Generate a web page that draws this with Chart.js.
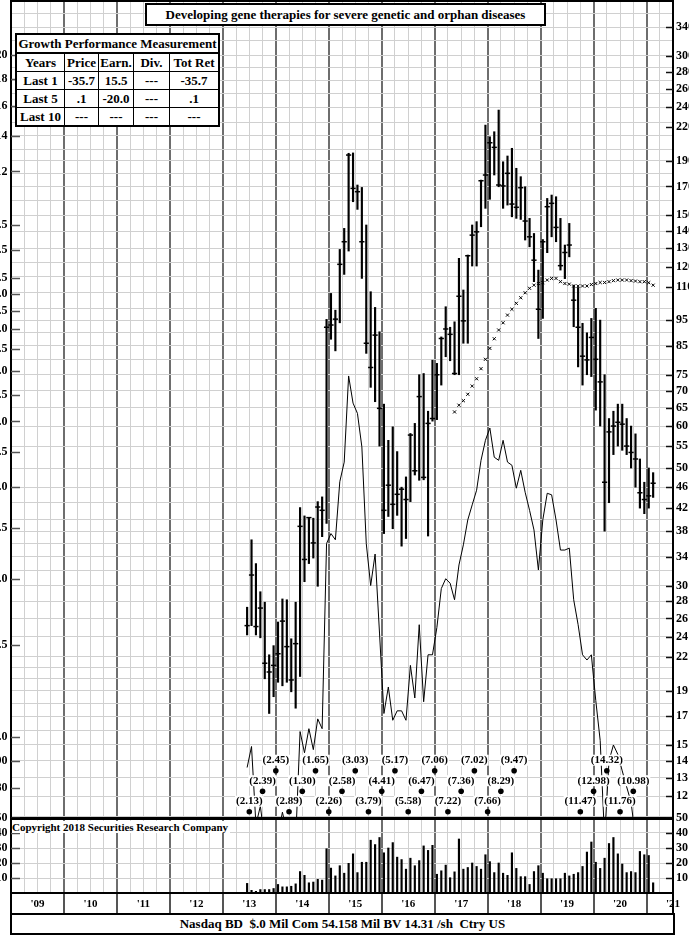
<!DOCTYPE html>
<html>
<head>
<meta charset="utf-8">
<script src="https://cdn.jsdelivr.net/npm/chart.js@4.4.0/dist/chart.umd.min.js"></script>
<style>
  body { margin: 0; background: #fff; width: 689px; height: 936px; overflow: hidden; position: relative;
         font-family: "Liberation Serif", "DejaVu Serif", serif; font-weight: bold; color: #000; }
  #priceWrap { position: absolute; left: 0; top: 0; width: 689px; height: 818px; }
  #volWrap { position: absolute; left: 0; top: 808px; width: 689px; height: 106px; }
  .title { position: absolute; left: 145px; top: 3px; width: 397px; height: 19px; border: 2px solid #000;
           background: #fff; font-size: 13px; line-height: 19px; text-align: center; white-space: nowrap; }
  table.gpm { position: absolute; left: 15px; top: 33px; border-collapse: collapse; background: #fff;
              font-size: 13px; border: 2px solid #000; }
  table.gpm td { border: 1px solid #000; text-align: center; padding: 0; height: 17px; line-height: 15px; white-space: nowrap; }
  table.gpm tr.head td { border-bottom: 2px solid #000; }
  .copy { position: absolute; left: 12px; top: 821px; font-size: 11px; line-height: 12px; background: #fff; padding-right: 2px; white-space: nowrap; }
  .foot { position: absolute; left: 10px; top: 913px; width: 661px; height: 18px; border: 2px solid #000; background: #fff;
          font-size: 13px; line-height: 18px; text-align: center; white-space: pre; }
</style>
</head>
<body>
<div id="priceWrap"><canvas id="price" width="689" height="818"></canvas></div>
<div id="volWrap"><canvas id="vol" width="689" height="106"></canvas></div>

<div class="title">Developing gene therapies for severe genetic and orphan diseases</div>
<table class="gpm">
  <tr class="head"><td colspan="5" style="border-right:1px solid #000">Growth Performance Measurement</td></tr>
  <tr><td style="width:47px">Years</td><td style="width:33px">Price</td><td style="width:34px">Earn.</td><td style="width:35px">Div.</td><td style="width:48px">Tot Ret</td></tr>
  <tr><td>Last 1</td><td>-35.7</td><td>15.5</td><td>---</td><td>-35.7</td></tr>
  <tr><td>Last 5</td><td>.1</td><td>-20.0</td><td>---</td><td>.1</td></tr>
  <tr><td>Last 10</td><td>---</td><td>---</td><td>---</td><td>---</td></tr>
</table>
<div class="copy">Copyright 2018 Securities Research Company</div>
<div class="foot">Nasdaq BD  $.0 Mil Com 54.158 Mil BV 14.31 /sh  Ctry US</div>

<script>
// monthly bars, first one is June 2013
const startYear = 2013, startMonth = 5;

const high = [
  27.3, 36.6, 33.0, 29.2, 27.9, 22.2, 23.1,
  25.6, 28.3, 28.2, 23.8, 27.9, 42.1, 40.6, 40.3, 40.2, 43.2, 44.1, 95.4,
  106.8, 99.3, 129.3, 141.7, 196.4, 196.7, 171.1, 169.3, 143.8, 107.6, 100.5, 90.4,
  66.0, 56.4, 59.8, 53.7, 46.0, 48.1, 58.1, 60.7, 75.0, 75.4, 64.0, 79.9,
  78.8, 88.4, 100.8, 92.2, 94.4, 124.4, 108.4, 126.2, 143.8, 145.9, 174.8, 222.0,
  211.0, 215.7, 237.0, 189.3, 194.1, 200.7, 184.0, 177.4, 169.8, 148.0, 138.6, 118.2,
  135.0, 161.4, 163.8, 162.6, 148.0, 131.8, 144.8, 110.7, 109.6, 93.8, 90.0, 95.8,
  100.1, 95.1, 75.0, 62.0, 64.0, 66.0, 66.0, 62.0, 60.0, 58.0, 52.0, 47.0,
  50.0, 49.0
];
const low = [
  24.2, 25.2, 24.2, 23.9, 20.0, 17.2, 18.5,
  19.7, 19.4, 19.7, 18.9, 17.6, 20.2, 30.5, 33.0, 33.8, 29.9, 37.1, 39.3,
  87.5, 83.2, 94.0, 116.0, 128.4, 159.1, 153.9, 114.0, 82.3, 71.0, 66.7, 55.0,
  37.6, 40.5, 38.4, 40.7, 35.6, 36.8, 43.2, 48.5, 47.4, 47.5, 37.2, 61.3,
  61.7, 71.7, 81.1, 79.7, 75.0, 75.0, 86.0, 86.0, 120.3, 120.3, 142.7, 154.6,
  160.8, 178.7, 169.8, 154.6, 156.8, 149.0, 148.0, 147.3, 134.7, 130.8, 112.4, 87.8,
  95.8, 127.5, 136.6, 133.7, 118.2, 113.9, 125.2, 92.4, 77.6, 71.7, 75.0, 74.4,
  64.3, 60.0, 38.0, 43.0, 53.0, 55.0, 54.0, 53.0, 50.0, 46.0, 42.0, 41.0,
  42.0, 44.0
];
const close = [
  25.2, 31.4, 25.1, 27.2, 21.4, 20.6, 21.2,
  22.3, 25.7, 23.0, 19.9, 23.3, 38.8, 33.6, 40.3, 36.1, 42.2, 41.6, 92.2,
  93.1, 95.5, 121.2, 133.7, 194.9, 168.6, 166.2, 133.7, 86.0, 77.4, 89.1, 64.8,
  41.6, 46.4, 42.7, 44.6, 45.6, 43.6, 57.7, 49.4, 68.2, 48.0, 60.7, 62.0,
  75.0, 87.8, 91.5, 89.4, 75.4, 105.5, 94.8, 125.8, 137.6, 139.6, 174.3, 178.7,
  205.6, 201.5, 171.1, 170.4, 180.0, 157.5, 155.3, 169.1, 146.3, 136.6, 123.4, 99.7,
  133.7, 155.7, 158.0, 142.3, 120.5, 127.6, 131.8, 103.7, 92.2, 81.3, 80.0, 88.2,
  80.2, 72.7, 47.0, 58.5, 60.0, 61.0, 60.5, 55.0, 53.5, 52.0, 44.9, 43.6,
  44.3, 46.8
];
const volume = [
  6.4, 1.8, 1.1, 2.3, 2.3, 2.3, 3.0,
  5.7, 4.1, 4.1, 4.5, 6.1, 14.3, 11.8, 6.8, 7.3, 9.1, 8.6, 29.5,
  16.6, 11.4, 18.2, 13.2, 19.8, 26.1, 13.6, 20.5, 20.5, 35.2, 32.3, 37.0,
  26.8, 30.0, 33.6, 23.9, 22.3, 15.9, 23.2, 18.2, 21.6, 31.4, 28.4, 31.8,
  12.5, 14.8, 18.6, 10.2, 14.1, 36.0, 15.9, 17.0, 20.0, 17.7, 15.9, 25.5,
  20.9, 13.6, 20.0, 13.2, 11.8, 26.8, 16.4, 10.9, 10.9, 5.7, 14.3, 18.2,
  13.2, 9.5, 9.5, 9.5, 9.5, 13.2, 11.4, 12.5, 13.6, 17.7, 27.3, 34.0,
  20.5, 16.4, 23.2, 33.0, 37.0, 26.1, 19.3, 13.6, 14.3, 13.6, 27.7, 25.5,
  25.0, 6.8
];
// relative strength line, June 2013 .. Dec 2020
const relStrength = [
  13.6, 14.9, 10.6, 11.5, 9.9, 9.6, 9.75,
  10.1, 11.2, 10.3, 9.75, 9.9, 15.9, 14.5, 16.1, 14.7, 16.8, 16.1, 36.0,
  37.6, 36.6, 47.1, 51.3, 74.6, 66.3, 63.4, 54.8, 36.0, 30.0, 34.4, 24.4,
  17.2, 19.3, 16.7, 17.4, 17.4, 16.7, 21.2, 18.4, 25.3, 18.1, 22.2, 22.2,
  25.0, 29.6, 30.9, 30.3, 28.2, 32.8, 35.8, 39.9, 42.6, 45.4, 51.7, 56.4,
  59.5, 52.4, 51.7, 56.4, 51.3, 50.6, 45.8, 49.5, 45.0, 41.6, 38.2, 32.1,
  39.9, 44.8, 44.5, 39.9, 35.0, 35.0, 35.3, 28.2, 25.3, 22.2, 21.7, 22.2,
  18.2, 15.3, 10.0, 14.0, 15.0, 14.4, 13.4, 12.5, 11.7, 10.0, 9.0, 8.5
];
// "x" line, May 2017 .. Feb 2021
const valueLineStart = 47;
const valueLine = [
  63.8, 65.7, 67.0, 68.9, 71.4, 73.7, 77.0, 80.2,
  84.1, 87.7, 91.1, 94.0, 97.2, 99.7, 102.3, 104.8, 107.1, 109.2, 110.7, 111.5,
  111.9, 113.2, 114.0, 114.0, 112.4, 111.5, 111.2, 110.3, 110.3, 110.3, 110.3, 111.0,
  111.5, 112.0, 112.0, 112.4, 112.9, 113.2, 113.2, 113.2, 112.9, 112.7, 112.4, 112.4,
  111.9, 110.7
];
// quarterly earnings per share labels
const epsDates = [2013.5, 2013.75, 2014.0, 2014.25, 2014.5, 2014.75, 2015.0, 2015.25, 2015.5, 2015.75,
  2016.0, 2016.25, 2016.5, 2016.75, 2017.0, 2017.25, 2017.5, 2017.75, 2018.0, 2018.25, 2018.5,
  2019.75, 2020.0, 2020.25, 2020.5, 2020.75];
const epsLabels = ['(2.13)', '(2.39)', '(2.45)', '(2.89)', '(1.30)', '(1.65)', '(2.26)', '(2.58)', '(3.03)', '(3.79)',
  '(4.41)', '(5.17)', '(5.58)', '(6.47)', '(7.06)', '(7.22)', '(7.36)', '(7.02)', '(7.66)', '(8.29)', '(9.47)',
  '(11.47)', '(12.98)', '(14.32)', '(11.76)', '(10.98)'];

const rightTicks = [340, 300, 280, 260, 240, 220, 190, 170, 150, 140, 130, 120, 110, 95, 85, 75, 70, 65, 60, 55,
  50, 46, 42, 38, 34, 30, 28, 26, 24, 22, 19, 17, 15, 14, 13, 12];
const leftTicks = [20, 18, 16, 14, 12, 9.5, 8.5, 7.5, 7, 6.5, 6, 5.5, 5, 4.5, 4, 3.5, 3, 2.5, 2, 1.5, 1, 0.9, 0.8];
const priceGrid = [11, 12, 13, 14, 15, 16, 17, 18, 19, 20, 21, 22, 24, 26, 28, 30, 32, 34, 36, 38, 40, 43, 46,
  50, 55, 60, 65, 70, 75, 80, 85, 90, 95, 100, 107, 115, 122, 130, 140, 150, 160, 170, 180, 190, 200,
  212, 225, 240, 255, 270, 285, 300, 320, 340, 360, 380];
const volTicks = [50, 40, 30, 20, 10];

const priceMax = 382.4, priceMin = 10.92, leftRatio = 15;

const monthX = i => startYear + (startMonth + i + 0.5) / 12;
const quarterTicks = [];
for (let q = 2009; q <= 2021.5 + 1e-9; q += 0.25) quarterTicks.push(q);
const isYear = v => Math.abs(v - Math.round(v)) < 1e-6;
const isMid = v => Math.abs(v - Math.floor(v) - 0.5) < 1e-6;

Chart.defaults.font.family = '"Liberation Serif", "DejaVu Serif", serif';
Chart.defaults.font.weight = 'bold';
Chart.defaults.color = '#000';

const labelFont = { size: 12, weight: 'bold' };

function gridX(showLabels) {
  return {
    type: 'linear', min: 2009, max: 2021.5, offset: false,
    afterBuildTicks: ax => { ax.ticks = quarterTicks.map(v => ({ value: v })); },
    afterFit: ax => { ax.paddingLeft = 0; ax.paddingRight = 0; ax.height = showLabels ? 21 : 0; },
    grid: {
      offset: false,
      color: c => (c.tick && isYear(c.tick.value)) ? '#6e6e6e' : '#d0d0d0',
      lineWidth: c => (c.tick && isYear(c.tick.value)) ? 2 : 1,
      drawTicks: showLabels,
      tickLength: 21,
      tickColor: c => (c.tick && isYear(c.tick.value)) ? '#555' : 'rgba(0,0,0,0)',
      tickWidth: 2
    },
    border: { display: true, color: '#000', width: 2 },
    ticks: {
      display: showLabels, autoSkip: false, maxRotation: 0, padding: -16,
      font: { size: 11, weight: 'bold' },
      callback: v => isMid(v) ? "'" + String(Math.floor(v)).slice(2) : ''
    }
  };
}

function fixedWidth(w) {
  return s => { s.width = w; s.paddingTop = 0; s.paddingBottom = 0; };
}

const leftFmt = v => v >= 10 ? String(v) : v >= 1 ? v.toFixed(1) : '.' + Math.round(v * 100);

// short tick dashes drawn inside the plot frame
const frameTicks = {
  id: 'frameTicks',
  afterDraw(chart, args, opts) {
    const { ctx, chartArea: a } = chart;
    ctx.save();
    ctx.lineWidth = 1.5;
    (opts.marks || []).forEach(m => {
      const sc = chart.scales[m.id];
      ctx.strokeStyle = m.color;
      sc.ticks.forEach(t => {
        const y = Math.round(sc.getPixelForValue(t.value)) + 0.5;
        ctx.beginPath();
        if (m.side === 'left') { ctx.moveTo(a.left, y); ctx.lineTo(a.left + m.len, y); }
        else { ctx.moveTo(a.right - m.len, y); ctx.lineTo(a.right, y); }
        ctx.stroke();
      });
    });
    ctx.strokeStyle = '#000';
    ctx.lineWidth = 2;
    ctx.beginPath();
    ctx.moveTo(a.left - 1, a.top + 1); ctx.lineTo(a.right + 1, a.top + 1);
    if (opts.band) {
      ctx.moveTo(a.left, a.bottom); ctx.lineTo(a.left, chart.height);
      ctx.moveTo(a.right, a.bottom); ctx.lineTo(a.right, chart.height);
    }
    ctx.stroke();
    ctx.restore();
  }
};

// earnings labels above their dots
const epsText = {
  id: 'epsText',
  afterDatasetsDraw(chart) {
    const idx = chart.data.datasets.findIndex(d => d.label === 'eps');
    const meta = chart.getDatasetMeta(idx);
    const ctx = chart.ctx;
    ctx.save();
    ctx.font = 'bold 11px "Liberation Serif", serif';
    ctx.textAlign = 'center';
    ctx.textBaseline = 'middle';
    meta.data.forEach((pt, i) => {
      const txt = epsLabels[i];
      const w = ctx.measureText(txt).width;
      ctx.fillStyle = '#fff';
      ctx.fillRect(pt.x - w / 2 - 1, pt.y - 16, w + 2, 11);
      ctx.fillStyle = '#000';
      ctx.fillText(txt, pt.x, pt.y - 10.5);
    });
    ctx.restore();
  }
};

const rangeData = high.map((h, i) => ({ x: monthX(i), y: [low[i], h] }));
const closeData = close.map((c, i) => ({ x: monthX(i), y: c }));
const rsData = relStrength.map((v, i) => ({ x: monthX(i), y: v }));
const vlData = valueLine.map((v, i) => ({ x: monthX(valueLineStart + i), y: v }));
const epsData = epsDates.map((d, i) => ({ x: d, y: i % 3 }));

new Chart(document.getElementById('price'), {
  type: 'bar',
  data: {
    datasets: [
      { label: 'range', data: rangeData, backgroundColor: '#000', borderWidth: 0, barThickness: 1.5,
        grouped: false, yAxisID: 'y', order: 5 },
      { label: 'close', type: 'line', data: closeData, showLine: false, pointStyle: 'line', pointRadius: 2.6,
        borderColor: '#000', borderWidth: 1.5, yAxisID: 'y', order: 4 },
      { label: 'value', type: 'line', data: vlData, showLine: false, pointStyle: 'crossRot', pointRadius: 2.2,
        borderColor: '#000', borderWidth: 1, yAxisID: 'y', order: 3 },
      { label: 'rs', type: 'line', data: rsData, borderColor: '#000', borderWidth: 1, pointRadius: 0,
        tension: 0, fill: false, yAxisID: 'y', order: 2 },
      { label: 'eps', type: 'line', data: epsData, showLine: false, pointStyle: 'circle', pointRadius: 2.8,
        backgroundColor: '#000', borderColor: '#000', borderWidth: 0, yAxisID: 'yRow', order: 1 }
    ]
  },
  options: {
    responsive: false, animation: false, events: [],
    layout: { padding: 0, autoPadding: false },
    plugins: { legend: { display: false }, tooltip: { enabled: false },
      frameTicks: { marks: [ { id: 'y', side: 'right', len: 7, color: '#111' }, { id: 'yL', side: 'left', len: 9, color: '#555' } ] } },
    scales: {
      x: gridX(false),
      yg: {
        type: 'logarithmic', axis: 'y', position: 'right', min: priceMin, max: priceMax, z: -1,
        afterBuildTicks: ax => { ax.ticks = priceGrid.map(v => ({ value: v })); },
        afterFit: fixedWidth(0),
        ticks: { display: false },
        grid: { color: '#d0d0d0', lineWidth: 1, drawTicks: false },
        border: { display: false }
      },
      y: {
        type: 'logarithmic', position: 'right', min: priceMin, max: priceMax,
        afterBuildTicks: ax => { ax.ticks = rightTicks.map(v => ({ value: v })); },
        afterFit: fixedWidth(16),
        ticks: { autoSkip: false, padding: 3, font: labelFont, callback: v => String(v) },
        grid: { drawOnChartArea: false, drawTicks: false },
        border: { display: true, color: '#000', width: 2 }
      },
      yL: {
        type: 'logarithmic', axis: 'y', position: 'left', min: priceMin / leftRatio, max: priceMax / leftRatio,
        afterBuildTicks: ax => { ax.ticks = leftTicks.map(v => ({ value: v })); },
        afterFit: fixedWidth(11),
        ticks: { autoSkip: false, padding: 3.5, font: labelFont, callback: v => leftFmt(v) },
        grid: { drawOnChartArea: false, drawTicks: false },
        border: { display: true, color: '#000', width: 2 }
      },
      yRow: { type: 'linear', axis: 'y', display: false, min: -0.307, max: 39.6 }
    }
  },
  plugins: [frameTicks, epsText]
});

const volData = volume.map((v, i) => ({ x: monthX(i), y: v }));

new Chart(document.getElementById('vol'), {
  type: 'bar',
  data: {
    datasets: [
      { label: 'volume', data: volData, backgroundColor: '#000', borderWidth: 0, barThickness: 1.5, grouped: false, yAxisID: 'v' }
    ]
  },
  options: {
    responsive: false, animation: false, events: [],
    layout: { padding: { top: 10, left: 0, right: 0, bottom: 0 }, autoPadding: false },
    plugins: { legend: { display: false }, tooltip: { enabled: false },
      frameTicks: { band: true, marks: [ { id: 'v', side: 'right', len: 7, color: '#111' }, { id: 'vL', side: 'left', len: 9, color: '#555' } ] } },
    scales: {
      x: gridX(true),
      v: {
        type: 'linear', axis: 'y', position: 'right', min: 0, max: 50,
        afterBuildTicks: ax => { ax.ticks = volTicks.map(v => ({ value: v })); },
        afterFit: fixedWidth(16),
        ticks: { autoSkip: false, padding: 3, font: labelFont },
        grid: { color: '#d0d0d0', drawTicks: false },
        border: { display: true, color: '#000', width: 2 }
      },
      vL: {
        type: 'linear', axis: 'y', position: 'left', min: 0, max: 50,
        afterBuildTicks: ax => { ax.ticks = volTicks.map(v => ({ value: v })); },
        afterFit: fixedWidth(11),
        ticks: { autoSkip: false, padding: 3.5, font: labelFont },
        grid: { drawOnChartArea: false, drawTicks: false },
        border: { display: true, color: '#000', width: 2 }
      }
    }
  },
  plugins: [frameTicks]
});
</script>
</body>
</html>
